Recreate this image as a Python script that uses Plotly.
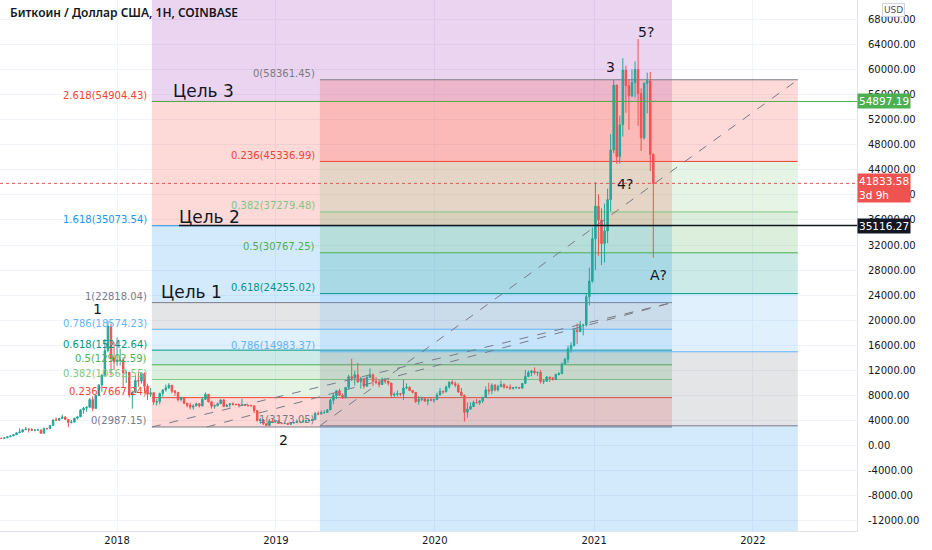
import pandas as pd
import plotly.graph_objects as go

# weekly BTC/USD candles (Coinbase), first week starts 2017-04-03
week_start = '2017-04-03'

opens = [
    # 2017
    1080, 1180, 1170, 1250, 1420, 1560, 1760, 2060, 2200, 2550, 2650, 2600, 2470,
    2500, 2500, 1990, 2750, 2730, 3240, 4100, 4070, 4360, 4580, 4200, 3700, 3770,
    4400, 4600, 5700, 5990, 6140, 7360, 5950, 8040, 9700, 11240, 15200, 19000, 14000,
    # 2018
    13400, 13600, 13650, 11600, 11700, 8100, 8500, 10400, 10300, 11500, 9500, 8200, 8450,
    6950, 7040, 8350, 8900, 9240, 9650, 8700, 8500, 7350, 7710, 6780, 6450, 6150,
    6350, 6700, 6350, 7400, 8200, 7000, 6300, 6400, 6700, 7300, 6250, 6500, 6700,
    6600, 6560, 6480, 6500, 6450, 6400, 6350, 5600, 4000, 4150, 3500, 3220, 3950, 3850,
    # 2019
    4000, 3550, 3530, 3580, 3410, 3620, 3680, 3850, 3860, 3920, 3990, 4030,
    4150, 5150, 5050, 5270, 5300, 5720, 7250, 8000, 8750, 8050, 7650, 9300, 11000,
    10800, 11300, 10200, 10700, 9500, 10900, 11300, 10300, 10100, 9750, 10400, 10300, 9990,
    8100, 8200, 8300, 8230, 9200, 9300, 8800, 8500, 7050, 7400, 7500, 7100, 7320, 7250,
    # 2020
    7350, 8100, 8700, 8600, 9380, 10150, 9900, 9650, 8550, 8000, 5350, 5850, 6250,
    6900, 6860, 7150, 7700, 8900, 8750, 9650, 8900, 9450, 9750, 9350, 9300, 9150,
    9280, 9300, 9180, 9950, 11050, 11680, 11900, 11650, 11700, 10250, 10300, 10950, 10750,
    10550, 11360, 11500, 13020, 13780, 15450, 16000, 18400, 18200, 19150, 19250, 23750, 26250,
    # 2021
    33000, 38200, 36000, 32250, 34250, 39250, 47150, 57500, 46100, 51200, 59900, 57400, 55800,
    57900, 60000, 56150, 49100, 57800, 58200, 46450,
]

highs = [
    # 2017
    1210, 1220, 1260, 1420, 1640, 1840, 2100, 2780, 2550, 2980, 2800, 2780, 2600,
    2700, 2540, 2900, 2800, 3300, 4200, 4480, 4380, 4980, 4700, 4260, 4100, 4400,
    4600, 5850, 6190, 6280, 7600, 7880, 8100, 9750, 11400, 17000, 19891, 19500, 16500,
    # 2018
    17250, 15500, 14100, 12000, 11800, 8800, 11200, 11800, 11700, 11700, 9900, 9200, 8500,
    7500, 8450, 9000, 9750, 9980, 9660, 8900, 8550, 7780, 7770, 6800, 6850, 6600,
    6850, 6800, 7700, 8500, 8250, 7150, 6600, 6900, 7400, 7420, 6600, 6800, 6900,
    6680, 6720, 7500, 6550, 6500, 6550, 6400, 5650, 4400, 4250, 3550, 4300, 4250, 4100,
    # 2019
    4100, 3750, 3620, 3620, 3750, 3700, 4200, 3900, 3950, 4000, 4080, 4180,
    5350, 5480, 5620, 5650, 5850, 7500, 8350, 8900, 9100, 8300, 9350, 11300, 13880,
    12000, 13200, 11000, 10800, 11100, 12300, 11500, 10950, 10600, 10900, 10500, 10350, 10000,
    8500, 8820, 8420, 10500, 9950, 9500, 8900, 8550, 7900, 7800, 7650, 7550, 7650, 7500,
    # 2020
    8450, 9200, 8750, 9600, 10180, 10500, 10250, 9950, 9200, 8200, 6900, 6900, 7200,
    7450, 7300, 7800, 9450, 10050, 9950, 9850, 9750, 10400, 9950, 9600, 9800, 9350,
    9450, 9350, 10000, 12100, 12000, 12100, 12500, 11800, 12100, 10600, 11100, 10980, 10960,
    11500, 11750, 13300, 14000, 15950, 16500, 18800, 19500, 19900, 19450, 24300, 28400, 34800,
    # 2021
    42000, 40100, 37850, 38600, 41000, 49700, 58350, 57600, 52650, 61800, 60600, 58300, 60000,
    61300, 64850, 57000, 57950, 59500, 59600, 46650,
]

lows = [
    # 2017
    1070, 1140, 1160, 1240, 1400, 1550, 1700, 2050, 2150, 2540, 2100, 2440, 2300,
    2450, 1900, 1950, 2550, 2650, 3220, 3950, 3900, 4300, 4100, 2970, 3550, 3760,
    4150, 4580, 5100, 5400, 6100, 5500, 5850, 7950, 8600, 11200, 14900, 11200, 12050,
    # 2018
    12750, 12800, 9200, 10000, 7700, 5900, 8400, 9400, 9900, 8350, 7300, 7800, 6500,
    6420, 6600, 7850, 8650, 9030, 8350, 7950, 7060, 7050, 6650, 6130, 5800, 5750,
    6300, 6100, 6300, 7350, 6900, 5900, 5900, 6250, 6650, 6150, 6200, 6100, 6400,
    6450, 6100, 6400, 6420, 6250, 6300, 5200, 3900, 3500, 3300, 3200, 3200, 3600, 3650,
    # 2019
    3500, 3500, 3450, 3350, 3370, 3550, 3650, 3700, 3650, 3850, 3900, 3960,
    4100, 4950, 5000, 5100, 5250, 5650, 6600, 7450, 8000, 7450, 7550, 9050, 10300,
    9600, 10000, 9100, 9100, 9400, 10800, 9500, 9800, 9300, 9700, 9900, 9600, 7700,
    7750, 7850, 7900, 7300, 8980, 8700, 8350, 6800, 6550, 7100, 7050, 6450, 7100, 6850,
    # 2020
    7300, 8000, 8250, 8500, 9100, 9700, 9300, 8500, 7850, 3850, 4450, 5700, 6150,
    6700, 6500, 6800, 7650, 8150, 8200, 8650, 8650, 9300, 9100, 9150, 8900, 8950,
    9050, 9050, 9150, 9900, 10950, 11100, 11350, 11150, 9900, 9850, 10250, 10150, 10400,
    10500, 11200, 11400, 12900, 13200, 14850, 15800, 16200, 18100, 17600, 19000, 22400, 26000,
    # 2021
    28000, 30300, 28800, 29200, 32300, 37400, 46650, 44950, 45000, 49300, 53100, 50400, 55600,
    55500, 51000, 47000, 48800, 53000, 43800, 30000,
]

closes = [
    # 2017
    1180, 1170, 1250, 1420, 1560, 1760, 2060, 2200, 2550, 2650, 2600, 2470, 2500,
    2500, 1990, 2750, 2730, 3240, 4100, 4070, 4360, 4580, 4200, 3700, 3770, 4400,
    4600, 5700, 5990, 6140, 7360, 5950, 8040, 9700, 11240, 15200, 19000, 14000, 13400,
    # 2018
    13600, 13650, 11600, 11700, 8100, 8500, 10400, 10300, 11500, 9500, 8200, 8450, 6950,
    7040, 8350, 8900, 9240, 9650, 8700, 8500, 7350, 7710, 6780, 6450, 6150, 6350,
    6700, 6350, 7400, 8200, 7000, 6300, 6400, 6700, 7300, 6250, 6500, 6700, 6600,
    6560, 6480, 6500, 6450, 6400, 6350, 5600, 4000, 4150, 3500, 3220, 3950, 3850, 4000,
    # 2019
    3550, 3530, 3580, 3410, 3620, 3680, 3850, 3860, 3920, 3990, 4030, 4150,
    5150, 5050, 5270, 5300, 5720, 7250, 8000, 8750, 8050, 7650, 9300, 11000, 10800,
    11300, 10200, 10700, 9500, 10900, 11300, 10300, 10100, 9750, 10400, 10300, 9990, 8100,
    8200, 8300, 8230, 9200, 9300, 8800, 8500, 7050, 7400, 7500, 7100, 7320, 7250, 7350,
    # 2020
    8100, 8700, 8600, 9380, 10150, 9900, 9650, 8550, 8000, 5350, 5850, 6250, 6900,
    6860, 7150, 7700, 8900, 8750, 9650, 8900, 9450, 9750, 9350, 9300, 9150, 9280,
    9300, 9180, 9950, 11050, 11680, 11900, 11650, 11700, 10250, 10300, 10950, 10750, 10550,
    11360, 11500, 13020, 13780, 15450, 16000, 18400, 18200, 19150, 19250, 23750, 26250, 33000,
    # 2021
    38200, 36000, 32250, 34250, 39250, 47150, 57500, 46100, 51200, 59900, 57400, 55800, 57900,
    60000, 56150, 49100, 57800, 58200, 46450, 41833.58,
]

# fib retracement 1: 0 = 2987.15, 1 = 22818.04 (levels as drawn on the chart)
fib1_ratios = ['0', '0.236', '0.382', '0.5', '0.618', '0.786', '1', '1.618', '2.618', '3.618']
fib1_prices = [2987.15, 7667.24, 10562.55, 12902.59, 15242.64, 18574.23, 22818.04,
               35073.54, 54904.43, 74735.32]

# fib retracement 2: 0 = 58361.45, 1 = 3173.05
fib2_ratios = ['0', '0.236', '0.382', '0.5', '0.618', '0.786', '1', '1.618']
fib2_prices = [58361.45, 45336.99, 37279.48, 30767.25, 24255.02, 14983.37, 3173.05, -30933.03]

target_prices = [54897.19, 35116.27]
last_price = 41833.58

price_ticks = [-12000, -8000, -4000, 0, 4000, 8000, 12000, 16000, 20000, 24000, 28000,
               32000, 36000, 40000, 44000, 48000, 52000, 56000, 60000, 64000, 68000]
year_ticks = ['2018-01-01', '2019-01-01', '2020-01-01', '2021-01-01', '2022-01-01']
year_labels = ['2018', '2019', '2020', '2021', '2022']

level_colors = {
    '0': '#787b86', '0.236': '#f44336', '0.382': '#81c784', '0.5': '#4caf50',
    '0.618': '#009688', '0.786': '#64b5f6', '1': '#787b86', '1.618': '#2196f3',
    '2.618': '#f44336', '3.618': '#9c27b0',
}

X_RANGE = ['2017-04-07', '2022-08-28']
Y_RANGE = [-13600, 71080]
FIB1_X = ['2018-03-22', '2021-06-29']
FIB2_X = ['2019-04-12', '2022-04-14']
TEXT = '#131722'


def rgba(hex_color, a):
    h = hex_color.lstrip('#')
    return 'rgba(%d,%d,%d,%s)' % (int(h[0:2], 16), int(h[2:4], 16), int(h[4:6], 16), a)


dates = pd.date_range(week_start, periods=len(closes), freq='7D')

fig = go.Figure()
fig.add_trace(go.Candlestick(
    x=dates, open=opens, high=highs, low=lows, close=closes,
    increasing=dict(line=dict(color='#26a69a', width=1), fillcolor='#26a69a'),
    decreasing=dict(line=dict(color='#ef5350', width=1), fillcolor='#ef5350'),
    whiskerwidth=0, hoverinfo='skip', showlegend=False,
))

shapes = []
annotations = []


def add_fib(ratios, prices, xs, visible_labels):
    # bands between neighbouring levels, coloured like the upper ratio
    for i in range(len(prices) - 1):
        shapes.append(dict(type='rect', xref='x', yref='y', x0=xs[0], x1=xs[1],
                           y0=prices[i], y1=prices[i + 1], line=dict(width=0),
                           fillcolor=rgba(level_colors[ratios[i + 1]], 0.2), layer='between'))
    for r, p in zip(ratios, prices):
        if r not in visible_labels:
            continue
        shapes.append(dict(type='line', xref='x', yref='y', x0=xs[0], x1=xs[1], y0=p, y1=p,
                           line=dict(color=level_colors[r], width=1), layer='between'))
        annotations.append(dict(x=xs[0], y=p, xref='x', yref='y', xanchor='right', yanchor='middle',
                                xshift=-3, yshift=6, showarrow=False,
                                text='%s(%.2f)' % (r, p),
                                font=dict(family='DejaVu Sans', size=10, color=level_colors[r])))


add_fib(fib1_ratios, fib1_prices, FIB1_X, fib1_ratios[:9])
add_fib(fib2_ratios, fib2_prices, FIB2_X, fib2_ratios[:7])

# dashed trend lines of the fibs
dash = dict(color='#787b86', width=1, dash='dash')
shapes.append(dict(type='line', xref='x', yref='y', x0=FIB1_X[0], y0=fib1_prices[0],
                   x1=FIB1_X[1], y1=fib1_prices[6], line=dash))
shapes.append(dict(type='line', xref='x', yref='y', x0='2018-07-26', y0=fib1_prices[0],
                   x1=FIB1_X[1], y1=fib1_prices[6], line=dash))
shapes.append(dict(type='line', xref='x', yref='y', x0=FIB2_X[0], y0=fib2_prices[6],
                   x1=FIB2_X[1], y1=fib2_prices[0], line=dash))

# target lines and current price
shapes.append(dict(type='line', xref='x', yref='y', x0='2018-03-22', x1=X_RANGE[1],
                   y0=target_prices[0], y1=target_prices[0], line=dict(color='#4caf50', width=1)))
shapes.append(dict(type='line', xref='x', yref='y', x0='2018-05-23', x1=X_RANGE[1],
                   y0=target_prices[1], y1=target_prices[1], line=dict(color=TEXT, width=1.5)))
shapes.append(dict(type='line', xref='x', yref='y', x0=X_RANGE[0], x1=X_RANGE[1],
                   y0=last_price, y1=last_price, line=dict(color='#ef5350', width=1, dash='dot')))

# text notes on the chart
notes = [
    ('Цель 3', '2018-05-05', 56570, 17, 'left'),
    ('Цель 2', '2018-05-18', 36520, 17, 'left'),
    ('Цель 1', '2018-04-07', 24560, 17, 'left'),
    ('1', '2017-11-16', 21800, 14, 'center'),
    ('2', '2019-01-19', 900, 14, 'center'),
    ('3', '2021-02-07', 60400, 14, 'center'),
    ('5?', '2021-05-01', 65950, 14, 'center'),
    ('4?', '2021-03-14', 41740, 14, 'center'),
    ('A?', '2021-05-28', 27220, 14, 'center'),
]
for txt, d, p, size, anchor in notes:
    annotations.append(dict(x=d, y=p, xref='x', yref='y', xanchor=anchor, yanchor='middle',
                            showarrow=False, text=txt,
                            font=dict(family='DejaVu Sans', size=size, color=TEXT)))

# price labels on the scale
for txt, p, bg in [('54897.19', target_prices[0], '#4caf50'),
                   ('41833.58<br>3d 9h', last_price, '#ef5350'),
                   ('35116.27', target_prices[1], TEXT)]:
    annotations.append(dict(x=1, y=p, xref='paper', yref='y', xanchor='left', yanchor='middle',
                            showarrow=False, text=txt, align='left', bgcolor=bg, borderpad=1,
                            yshift=-5 if '<br>' in txt else 0,
                            font=dict(family='DejaVu Sans', size=10.5, color='white')))

annotations.append(dict(x=1.043, y=0.981, xref='paper', yref='paper', xanchor='center',
                        yanchor='middle', showarrow=False, text='USD', bgcolor='white',
                        bordercolor='#d1d4dc', borderwidth=1, borderpad=1,
                        font=dict(family='DejaVu Sans', size=9, color='#50535e')))

annotations.append(dict(x=0.009, y=0.977, xref='paper', yref='paper', xanchor='left',
                        yanchor='middle', showarrow=False,
                        text='Биткоин / Доллар США, 1H, COINBASE',
                        font=dict(family='Noto Sans', size=12, color=TEXT, weight=600)))

fig.update_layout(
    width=932, height=550,
    margin=dict(l=0, r=75, t=0, b=19),
    paper_bgcolor='white', plot_bgcolor='white',
    showlegend=False,
    shapes=shapes,
    annotations=annotations,
    xaxis=dict(
        type='date', range=X_RANGE, rangeslider=dict(visible=False),
        tickvals=year_ticks, ticktext=year_labels,
        showgrid=True, gridcolor='#f0f3fa', zeroline=False,
        showline=True, linecolor='#e0e3eb', ticks='',
        tickfont=dict(family='DejaVu Sans', size=10, color=TEXT),
    ),
    yaxis=dict(
        side='right', range=Y_RANGE,
        tickvals=price_ticks, ticktext=['%.2f' % v for v in price_ticks],
        showgrid=True, gridcolor='#f0f3fa', zeroline=False,
        showline=True, linecolor='#e0e3eb', ticks='', ticklabelstandoff=8,
        tickfont=dict(family='DejaVu Sans', size=10, color=TEXT),
    ),
)

# page has a default 8px body margin; drop it so the chart fills the window
fig.write_html('out.html', config={'displayModeBar': False},
               post_script="document.body.style.margin='0';")
